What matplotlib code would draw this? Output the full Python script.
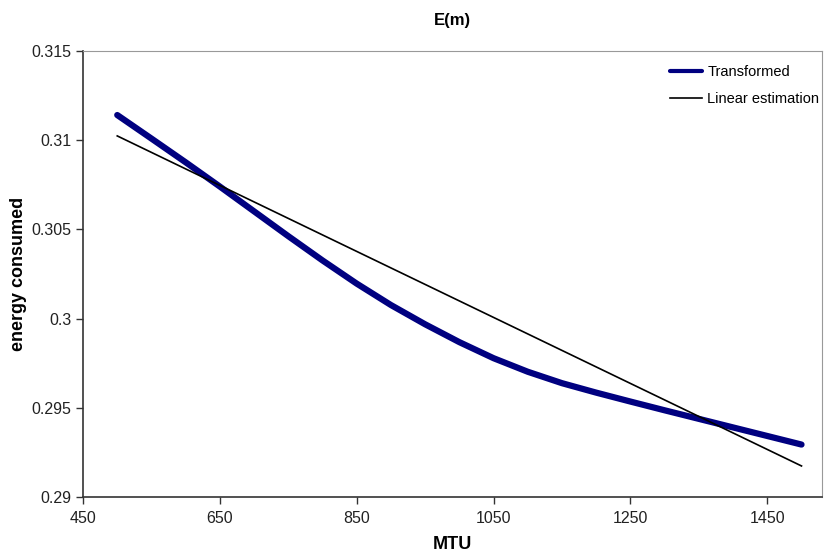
import matplotlib
matplotlib.use("Agg")
import matplotlib.pyplot as plt

plt.rcParams['font.family'] = ['Liberation Sans', 'DejaVu Sans']

# MTU sample points and energy consumed
mtu = [500, 550, 600, 650, 700, 750, 800, 850, 900, 950, 1000, 1050,
       1100, 1150, 1200, 1250, 1300, 1350, 1400, 1450, 1500]
transformed = [0.31141, 0.31009, 0.30876, 0.30740, 0.30601, 0.30462,
               0.30326, 0.30196, 0.30076, 0.29968, 0.29868, 0.29778,
               0.29702, 0.29638, 0.29585, 0.29535, 0.29486, 0.29438,
               0.29390, 0.29342, 0.29294]
linear_x = [500, 1500]
linear_y = [0.31024, 0.29174]

fig = plt.figure(figsize=(8.27, 5.56), dpi=100)
ax = fig.add_axes([0.1004, 0.1061, 0.8936, 0.8022])

ax.plot(mtu, transformed, color='#000080', lw=4.5, solid_capstyle='round',
        solid_joinstyle='round', label='Transformed')
ax.plot(linear_x, linear_y, color='black', lw=1.2, label='Linear estimation')

ax.set_xlim(450, 1530)
ax.set_ylim(0.29, 0.315)
ax.set_xticks([450, 650, 850, 1050, 1250, 1450])
ax.set_yticks([0.29, 0.295, 0.3, 0.305, 0.31, 0.315])
ax.set_yticklabels(['0.29', '0.295', '0.3', '0.305', '0.31', '0.315'])
ax.tick_params(labelsize=11.5, length=5, width=1, colors='#333333',
               labelcolor='#222222')
ax.tick_params(axis='x', pad=5)

for s in ['top', 'right']:
    ax.spines[s].set_color('#999999')
for s in ['left', 'bottom']:
    ax.spines[s].set_color('#333333')
    ax.spines[s].set_linewidth(1.2)

ax.set_title('E(m)', fontsize=12, fontweight='bold', pad=19)
ax.set_xlabel('MTU', fontsize=13, fontweight='bold', labelpad=7)
ax.set_ylabel('energy consumed', fontsize=13, fontweight='bold', labelpad=3)

leg = ax.legend(loc='upper right', frameon=False, fontsize=10.5,
                handlelength=2.2, handletextpad=0.35, labelspacing=0.9,
                borderaxespad=0.0, bbox_to_anchor=(1.004, 0.982))
leg.get_lines()[0].set_linewidth(3)

fig.savefig('out.png', dpi=100)
